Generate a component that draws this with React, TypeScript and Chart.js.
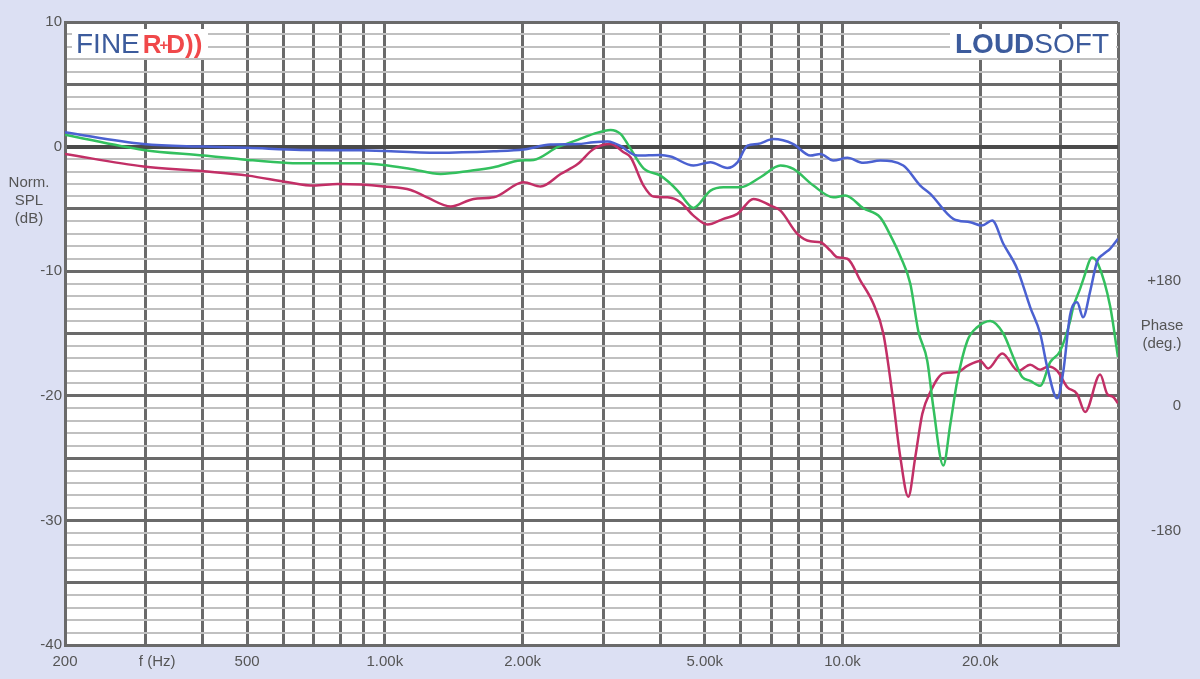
import React, { useEffect, useRef } from "react";
import { Chart, registerables } from "chart.js";

Chart.register(...registerables);

// ---- Data (frequency in Hz, level in dB) ----
const blueFreq = [200, 297, 402, 502, 655, 886, 1304, 1729, 2010, 2302, 2638, 2858, 3066, 3160, 3273, 3566, 4002, 4209, 4725, 5147, 5605, 5894, 6199, 6519, 7064, 7811, 8510, 8950, 9550, 10249, 11107, 12100, 13580, 14792, 15556, 17462, 19022, 20174, 21240, 22460, 24080, 25720, 27040, 28020, 29460, 30360, 31440, 32560, 33560, 34780, 36020, 37120, 38440, 40000];
const blueDb = [1.15, 0.2, 0.0, -0.1, -0.27, -0.3, -0.5, -0.38, -0.24, 0.16, 0.2, 0.35, 0.4, 0.3, 0.05, -0.72, -0.67, -0.8, -1.52, -1.26, -1.71, -1.26, 0.08, 0.2, 0.6, 0.2, -0.72, -0.59, -1.12, -0.9, -1.3, -1.12, -1.52, -3.13, -3.8, -5.8, -6.07, -6.34, -5.94, -7.8, -9.8, -12.9, -15.0, -17.7, -20.2, -18.1, -13.5, -12.5, -13.7, -11.6, -9.2, -8.65, -8.2, -7.4];

const greenFreq = [200, 297, 402, 502, 614, 699, 886, 994, 1139, 1324, 1540, 1729, 1980, 2114, 2384, 2638, 2858, 3113, 3273, 3391, 3675, 4002, 4360, 4654, 4725, 5147, 5494, 5984, 6618, 7318, 7811, 8640, 9550, 10146, 11107, 12100, 12720, 13376, 14068, 14644, 15322, 15792, 16606, 17202, 17818, 18736, 19698, 21030, 22460, 23620, 24700, 25720, 27040, 28440, 29900, 31440, 31920, 33060, 33560, 35120, 36200, 38440, 40000];
const greenDb = [0.96, -0.27, -0.72, -1.07, -1.31, -1.34, -1.34, -1.47, -1.79, -2.19, -1.93, -1.66, -1.12, -1.07, -0.05, 0.54, 1.02, 1.34, 1.02, 0.22, -1.75, -2.33, -3.53, -4.81, -4.92, -3.53, -3.26, -3.26, -2.46, -1.52, -1.79, -3.13, -4.07, -3.93, -4.95, -5.7, -7.1, -8.8, -11.0, -14.8, -17.2, -20.9, -25.6, -22.3, -18.8, -15.6, -14.5, -14.0, -15.0, -16.9, -18.5, -18.8, -19.2, -17.3, -16.4, -14.0, -12.9, -11.4, -10.7, -8.9, -9.45, -12.8, -16.9];

const magentaFreq = [200, 297, 402, 502, 614, 699, 789, 886, 994, 1139, 1240, 1393, 1563, 1729, 2010, 2190, 2421, 2638, 2858, 3113, 3323, 3443, 3675, 3864, 4146, 4426, 4725, 5070, 5494, 5894, 6389, 6958, 7318, 7969, 8510, 8950, 9410, 9745, 10249, 10940, 11680, 12280, 12850, 13376, 13926, 14426, 14942, 15556, 16606, 17818, 18736, 20000, 20820, 22340, 24220, 25720, 27040, 28160, 29460, 30980, 32560, 33900, 36560, 37880, 39040, 40000];
const magentaDb = [-0.59, -1.6, -1.98, -2.33, -2.86, -3.13, -3.0, -3.05, -3.2, -3.48, -4.1, -4.81, -4.2, -4.07, -2.86, -3.2, -2.2, -1.4, -0.19, 0.2, -0.45, -0.86, -3.13, -4.01, -4.07, -4.47, -5.54, -6.26, -5.8, -5.4, -4.2, -4.73, -5.14, -7.0, -7.6, -7.67, -8.35, -8.88, -9.0, -10.75, -12.6, -15.0, -19.85, -24.9, -28.1, -24.9, -21.45, -19.7, -18.2, -18.1, -17.6, -17.2, -17.8, -16.6, -18.0, -17.5, -17.9, -17.65, -18.0, -19.3, -19.85, -21.3, -18.3, -19.85, -20.1, -20.6];

// ---- Axes ----
const xGridValues = [200, 300, 400, 500, 600, 700, 800, 900, 1000, 2000, 3000, 4000, 5000, 6000, 7000, 8000, 9000, 10000, 20000, 30000, 40000];
const xLabelValues = [200, 318, 500, 1000, 2000, 5000, 10000, 20000];
const xLabelTexts = ["200", "f (Hz)", "500", "1.00k", "2.00k", "5.00k", "10.0k", "20.0k"];
const phaseTickValues = [-180, 0, 180];
const phaseTickTexts = ["-180", "0", "+180"];
const splTitle = ["Norm.", "SPL", "(dB)"];
const phaseTitle = ["Phase", "(deg.)"];

const FONT = "Arial, 'Liberation Sans', sans-serif";
const TEXT = "#555555";
const GRID_DARK = "#6a6a6a";
const GRID_LIGHT = "#c0c0c0";

const toXY = (f: number[], d: number[]) => f.map((x, i) => ({ x, y: d[i] }));

const zeroPad = (scale: any) => {
  scale.paddingTop = 0;
  scale.paddingBottom = 0;
  scale.paddingLeft = 0;
  scale.paddingRight = 0;
};

const overlayPlugin = {
  id: "overlay",
  beforeDraw(chart: any) {
    const { ctx, chartArea: a } = chart;
    ctx.save();
    ctx.fillStyle = "#ffffff";
    ctx.fillRect(a.left, a.top, a.right - a.left, a.bottom - a.top);
    ctx.restore();
  },
  beforeDatasetsDraw(chart: any) {
    const ctx = chart.ctx;
    ctx.save();
    // FINE R+D logo
    ctx.fillStyle = "#ffffff";
    ctx.fillRect(72, 29, 136, 29);
    ctx.textBaseline = "alphabetic";
    ctx.textAlign = "left";
    let x = 76;
    const base = 53;
    ctx.font = `28px ${FONT}`;
    ctx.fillStyle = "#3c5b9c";
    ctx.fillText("FINE", x, base);
    x += ctx.measureText("FINE").width + 3;
    ctx.fillStyle = "#f0484a";
    ctx.font = `bold 26px ${FONT}`;
    ctx.fillText("R", x, base);
    x += ctx.measureText("R").width - 2;
    ctx.font = `bold 15px ${FONT}`;
    ctx.fillText("+", x, base - 3);
    x += ctx.measureText("+").width - 2;
    ctx.font = `bold 26px ${FONT}`;
    ctx.fillText("D))", x, base);
    // LOUDSOFT logo
    ctx.fillStyle = "#ffffff";
    ctx.fillRect(950, 29, 166, 29);
    ctx.fillStyle = "#3c5b9c";
    ctx.font = `bold 28px ${FONT}`;
    ctx.fillText("LOUD", 955, base);
    const w = ctx.measureText("LOUD").width;
    ctx.font = `28px ${FONT}`;
    ctx.fillText("SOFT", 955 + w, base);
    ctx.restore();
  },
  afterDraw(chart: any) {
    const ctx = chart.ctx;
    ctx.save();
    ctx.fillStyle = TEXT;
    ctx.font = `15px ${FONT}`;
    ctx.textAlign = "center";
    ctx.textBaseline = "middle";
    splTitle.forEach((t, i) => ctx.fillText(t, 29, 183 + i * 18));
    phaseTitle.forEach((t, i) => ctx.fillText(t, 1162, 326 + i * 18));
    ctx.restore();
  },
};

export default function App() {
  const ref = useRef<HTMLCanvasElement | null>(null);
  useEffect(() => {
    if (!ref.current) return;
    const chart = new Chart(ref.current, {
      type: "line",
      data: {
        datasets: [
          { label: "Blue", data: toXY(blueFreq, blueDb), borderColor: "#4b61d1", borderWidth: 2.5, pointRadius: 0, cubicInterpolationMode: "monotone", xAxisID: "x", yAxisID: "y" },
          { label: "Green", data: toXY(greenFreq, greenDb), borderColor: "#33c05e", borderWidth: 2.5, pointRadius: 0, cubicInterpolationMode: "monotone", xAxisID: "x", yAxisID: "y" },
          { label: "Magenta", data: toXY(magentaFreq, magentaDb), borderColor: "#c22f66", borderWidth: 2.5, pointRadius: 0, cubicInterpolationMode: "monotone", xAxisID: "x", yAxisID: "y" },
        ],
      },
      options: {
        animation: false,
        responsive: false,
        events: [],
        layout: { padding: { top: 22, left: 0, right: 19, bottom: 0 } },
        plugins: { legend: { display: false }, tooltip: { enabled: false } },
        scales: {
          x: {
            type: "logarithmic",
            min: 200,
            max: 40000,
            afterBuildTicks: (scale: any) => {
              const vals = Array.from(new Set([...xGridValues, ...xLabelValues])).sort((a, b) => a - b);
              scale.ticks = vals.map((v) => ({ value: v }));
            },
            afterFit: (scale: any) => { scale.height = 34; zeroPad(scale); },
            grid: {
              drawTicks: false,
              color: (c: any) => (xGridValues.includes(c.tick?.value) ? GRID_DARK : "rgba(0,0,0,0)"),
              lineWidth: 3,
            },
            border: { display: true, color: GRID_DARK, width: 3 },
            ticks: {
              autoSkip: false,
              maxRotation: 0,
              minRotation: 0,
              padding: 8,
              color: TEXT,
              font: { family: FONT, size: 15 },
              callback: (v: any) => {
                const i = xLabelValues.indexOf(Number(v));
                return i >= 0 ? xLabelTexts[i] : "";
              },
            },
          },
          y: {
            type: "linear",
            position: "left",
            min: -40,
            max: 10,
            afterFit: (scale: any) => { scale.width = 65; zeroPad(scale); },
            grid: {
              drawTicks: false,
              color: (c: any) => {
                const v = c.tick?.value;
                if (v === 0) return "#4a4a4a";
                return v % 5 === 0 ? GRID_DARK : GRID_LIGHT;
              },
              lineWidth: (c: any) => {
                const v = c.tick?.value;
                if (v === 0) return 4;
                return v % 5 === 0 ? 3 : 2;
              },
            },
            border: { display: true, color: GRID_DARK, width: 3 },
            ticks: {
              stepSize: 1,
              autoSkip: false,
              padding: 3,
              color: TEXT,
              font: { family: FONT, size: 15 },
              callback: (v: any) => (Number(v) % 10 === 0 ? String(v) : ""),
            },
          },
          y1: {
            type: "linear",
            position: "right",
            min: -360,
            max: 540,
            afterBuildTicks: (scale: any) => {
              scale.ticks = phaseTickValues.map((v) => ({ value: v }));
            },
            afterFit: (scale: any) => { scale.width = 63; zeroPad(scale); },
            grid: { display: false, drawTicks: false },
            border: { display: false },
            ticks: {
              autoSkip: false,
              crossAlign: "far",
              padding: 10,
              labelOffset: 10,
              color: TEXT,
              font: { family: FONT, size: 15 },
              callback: (v: any) => {
                const i = phaseTickValues.indexOf(Number(v));
                return i >= 0 ? phaseTickTexts[i] : "";
              },
            },
          },
        },
      },
      plugins: [overlayPlugin],
    } as any);
    return () => chart.destroy();
  }, []);
  return (
    <div style={{ position: "absolute", left: 0, top: 0, width: 1200, height: 679, background: "#dce0f3" }}>
      <canvas ref={ref} width={1200} height={679} style={{ display: "block", width: 1200, height: 679 }} />
    </div>
  );
}
